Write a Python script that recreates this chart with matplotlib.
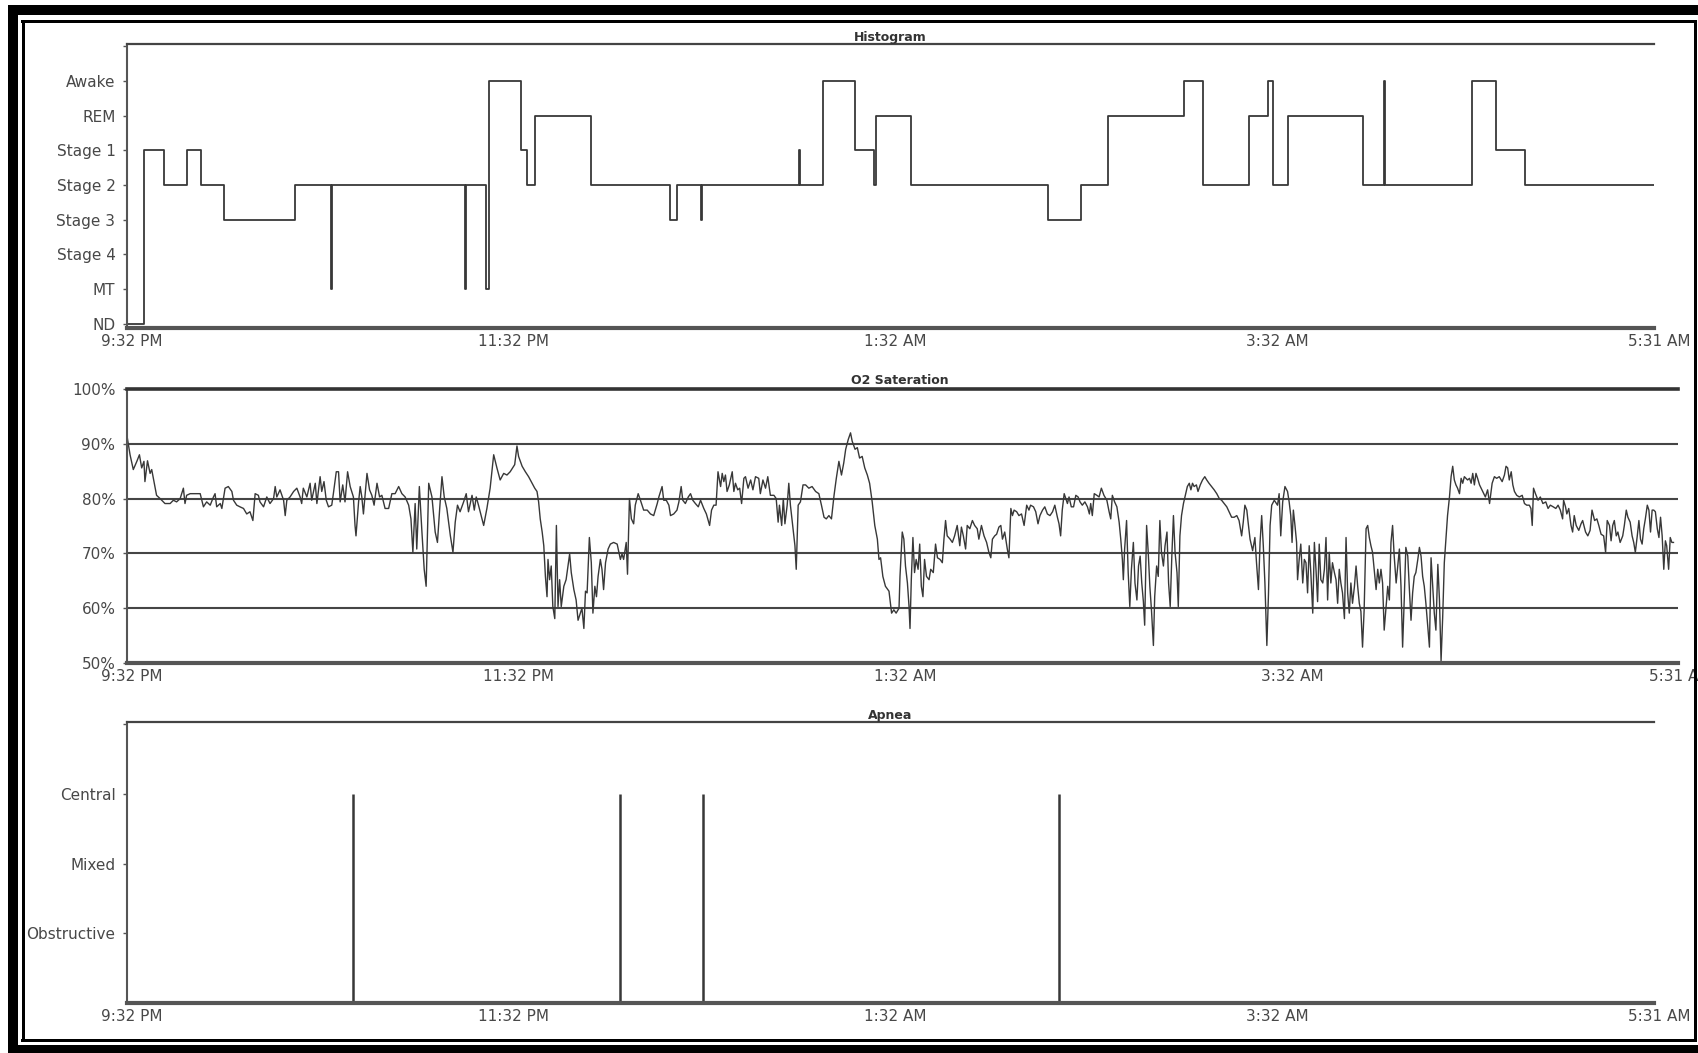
import numpy as np
import matplotlib.pyplot as plt
from matplotlib.patches import Rectangle
from matplotlib.transforms import ScaledTranslation

plt.rcParams['font.family'] = ['DejaVu Sans']

# time axis: minutes after 9:32 PM
record_end = 479
time_labels = ["9:32 PM", "11:32 PM", "1:32 AM", "3:32 AM", "5:31 AM"]

# sleep stages (code = position on the y axis)
stage_names = ["ND", "MT", "Stage 4", "Stage 3", "Stage 2", "Stage 1", "REM", "Awake"]
stage_start = [0, 5.4, 11.7, 19.1, 23.3, 30.5, 52.7, 64.0, 64.5, 106.0,
               106.5, 112.8, 113.7, 123.8, 125.5, 128.0, 145.8, 170.3, 172.5, 180.1,
               180.5, 210.8, 211.2, 218.3, 228.3, 234.4, 234.9, 245.9, 288.9, 299.4,
               307.7, 331.5, 337.5, 351.9, 357.9, 359.6, 364.2, 387.7, 394.2, 394.7,
               422.0, 429.6, 438.4]
stage_code = [0, 5, 4, 5, 4, 3, 4, 1, 4, 1,
              4, 1, 7, 5, 4, 6, 4, 3, 4, 3,
              4, 5, 4, 7, 5, 4, 6, 4, 3, 4,
              6, 7, 4, 6, 7, 4, 6, 4, 7, 4,
              7, 5, 4]

# O2 saturation samples, in four stretches of the night
o2_min_1 = [0.0, 1.1, 2.1, 3.2, 4.0, 4.7, 5.4, 5.7, 6.5, 7.3,
            7.8, 8.3, 9.3, 10.4, 11.9, 13.5, 14.5, 15.5, 16.6, 17.6,
            18.1, 18.6, 19.7, 20.7, 22.8, 23.8, 24.8, 25.9, 26.9, 27.4,
            27.9, 29.0, 29.5, 30.5, 31.5, 32.6, 33.1, 34.1, 35.1, 36.2,
            37.2, 38.2, 39.1, 39.8, 40.8, 41.3, 42.4, 43.4, 44.4, 45.5,
            46.0, 46.5, 47.5, 48.6, 49.1, 49.6, 50.6, 51.7, 52.7, 53.7,
            54.2, 54.7, 55.8, 56.8, 57.3, 58.4, 58.9, 59.9, 60.4, 61.1,
            61.8, 62.5, 63.5, 64.0, 64.9, 65.6, 66.1, 66.9, 67.6, 68.4,
            69.2, 70.2, 70.7, 71.0, 71.8, 72.3, 72.8, 73.3, 74.4, 75.2,
            75.9, 76.6, 77.5, 78.3, 79.0, 80.0, 81.1, 82.1, 83.1, 84.2,
            85.2, 86.2, 87.3, 88.0, 88.6, 89.3, 89.8, 90.6, 91.4, 92.1,
            92.7, 93.1, 93.5, 94.5, 95.5, 96.2, 96.9, 97.6, 98.3, 99.1,
            100.2, 101.0, 101.7, 102.4, 103.2, 104.3, 105.1, 105.8, 106.9, 107.6,
            108.2, 108.9, 110.0, 110.5, 111.5, 112.5, 113.6, 114.6, 115.6, 116.7,
            117.7, 118.7, 119.8]
o2_val_1 = [92.0, 88.0, 85.3, 86.8, 88.0, 85.6, 86.8, 83.1, 86.9, 84.6,
            85.3, 83.7, 80.6, 80.0, 79.1, 79.1, 79.7, 79.4, 80.0, 81.9,
            79.1, 80.6, 80.9, 80.9, 80.9, 78.5, 79.4, 78.8, 80.3, 80.9,
            78.5, 79.1, 78.2, 81.9, 82.2, 81.3, 79.7, 78.8, 78.5, 78.2,
            77.2, 77.6, 76.0, 80.9, 80.6, 79.4, 78.5, 80.3, 79.1, 80.0,
            82.2, 80.3, 81.6, 79.7, 76.9, 79.7, 80.3, 81.3, 81.9, 80.3,
            79.1, 81.9, 80.3, 82.8, 79.7, 82.8, 79.1, 84.0, 81.3, 83.1,
            79.7, 78.5, 78.8, 80.9, 84.9, 84.9, 79.4, 82.5, 79.4, 84.9,
            82.2, 80.3, 75.1, 73.2, 79.4, 82.2, 80.3, 77.2, 84.6, 81.6,
            80.6, 78.8, 82.8, 80.3, 80.6, 78.2, 78.2, 80.9, 80.9, 82.2,
            80.9, 80.3, 78.8, 76.3, 70.2, 79.1, 70.8, 82.2, 73.9, 67.1,
            64.0, 73.2, 82.8, 80.3, 73.9, 72.0, 78.2, 84.0, 80.3, 78.2,
            73.2, 70.2, 75.7, 78.8, 77.6, 79.4, 80.9, 77.6, 80.6, 77.9,
            80.3, 78.8, 76.3, 75.1, 78.2, 81.9, 88.0, 85.6, 83.4, 84.6,
            84.3, 84.9, 85.9]

o2_min_2 = [120.1, 120.8, 121.3, 122.4, 123.4, 124.4, 125.5, 126.3, 127.0, 127.5,
            128.0, 128.6, 129.1, 129.6, 130.1, 130.4, 130.9, 131.4, 131.9, 132.5,
            133.0, 133.5, 134.0, 134.5, 135.3, 136.0, 136.6, 137.1, 137.6, 138.4,
            139.1, 139.7, 140.4, 140.9, 141.5, 142.0, 142.5, 143.2, 143.8, 144.3,
            144.9, 145.4, 145.9, 146.6, 147.1, 147.6, 148.2, 149.0, 149.7, 150.7,
            151.8, 152.8, 153.3, 153.8, 154.6, 155.0, 155.6, 156.2, 156.9, 157.4,
            158.3, 159.0, 160.0, 161.1, 162.1, 163.1, 164.2, 164.7, 165.7, 166.2,
            167.0, 167.8, 168.3, 169.3, 170.3, 170.9, 171.6, 172.1, 172.9, 173.8,
            174.5, 175.2, 176.0, 176.9, 177.6, 178.6, 179.4, 180.4, 181.0, 181.7,
            182.4, 183.0, 183.8, 184.3, 184.8, 185.3, 185.8, 186.5, 187.4, 187.9,
            188.4, 189.1, 189.7, 190.3, 191.0, 191.5, 192.3, 193.1, 193.8, 194.6,
            195.6, 196.1, 196.9, 197.7, 198.4, 199.2, 200.3, 201.0, 201.6, 202.0,
            202.7, 203.2, 203.7, 204.4, 204.9, 205.4, 206.2, 206.8, 207.2, 207.8,
            208.5, 209.3, 210.1, 211.1, 212.1, 213.2, 214.2, 215.0, 215.8, 216.5,
            217.3, 218.1, 218.9, 219.6, 220.4, 221.2, 221.9, 222.5, 223.3, 224.0,
            224.5, 225.4, 226.1, 226.8, 227.6, 228.4, 229.2, 229.9, 230.7, 231.5,
            232.3, 232.8, 233.3, 234.0, 234.8, 235.9, 236.7, 237.4, 238.1, 239.0]
o2_val_2 = [86.2, 89.6, 87.7, 85.9, 84.9, 84.0, 82.8, 81.9, 81.3, 79.4,
            76.3, 73.9, 71.4, 65.8, 62.1, 68.9, 65.2, 67.7, 60.3, 58.1,
            75.1, 60.3, 65.2, 60.3, 64.0, 65.2, 67.7, 69.9, 66.5, 63.4,
            61.5, 57.8, 59.1, 60.0, 56.3, 63.1, 62.8, 72.9, 68.3, 59.1,
            64.0, 62.1, 65.8, 68.9, 67.1, 63.4, 68.3, 70.8, 71.7, 72.0,
            71.7, 68.9, 69.9, 68.9, 72.0, 66.2, 80.0, 76.3, 75.4, 78.8,
            80.9, 79.7, 77.9, 77.9, 77.2, 76.9, 79.1, 80.3, 82.2, 79.7,
            79.7, 78.8, 76.9, 77.2, 77.9, 79.4, 82.2, 79.7, 79.1, 80.3,
            80.9, 79.7, 79.1, 78.5, 79.7, 78.2, 77.2, 75.1, 77.9, 78.8,
            78.8, 84.9, 82.2, 84.6, 83.1, 84.3, 81.3, 82.5, 84.9, 81.3,
            82.8, 81.6, 81.9, 79.1, 83.7, 84.0, 81.9, 83.4, 81.6, 84.0,
            83.7, 80.9, 83.4, 81.9, 84.0, 80.6, 80.6, 80.0, 75.7, 78.8,
            75.1, 80.0, 75.4, 78.8, 82.8, 78.8, 74.5, 71.4, 67.1, 78.8,
            79.4, 82.5, 82.5, 81.9, 82.2, 81.3, 80.9, 78.8, 76.6, 76.3,
            76.9, 76.3, 80.6, 83.7, 86.8, 84.3, 86.5, 89.0, 90.8, 92.0,
            90.5, 89.0, 89.3, 87.4, 87.7, 85.6, 84.3, 82.8, 79.4, 75.1,
            72.6, 68.9, 69.2, 65.8, 64.0, 63.1, 59.1, 59.7, 59.1, 60.0]

o2_min_3 = [239.3, 240.0, 240.5, 241.0, 241.6, 242.1, 242.4, 242.8, 243.3, 243.8,
            244.3, 244.9, 245.4, 245.9, 246.4, 246.9, 247.5, 248.3, 248.8, 249.6,
            250.3, 250.9, 251.7, 252.4, 252.9, 253.4, 253.9, 254.8, 255.5, 256.2,
            257.0, 257.8, 258.3, 258.9, 259.6, 260.1, 260.9, 261.7, 262.4, 263.2,
            263.7, 264.5, 265.3, 266.1, 266.8, 267.4, 267.9, 268.6, 269.2, 269.9,
            270.5, 271.0, 271.7, 272.5, 273.0, 273.6, 274.1, 274.6, 275.4, 276.1,
            276.9, 277.7, 278.5, 279.2, 279.7, 280.6, 281.3, 282.0, 282.6, 283.4,
            284.1, 284.9, 285.7, 286.5, 287.2, 288.0, 288.5, 289.0, 289.5, 290.1,
            290.6, 291.1, 291.6, 292.3, 293.0, 293.7, 294.4, 295.0, 295.7, 296.5,
            297.3, 297.9, 298.3, 298.8, 299.4, 300.2, 300.9, 301.6, 302.4, 303.3,
            304.0, 304.5, 305.0, 305.7, 306.4, 307.1, 307.6, 308.1, 308.4, 308.8,
            309.4, 309.9, 310.4, 310.9, 311.5, 312.0, 312.6, 313.1, 313.6, 314.1,
            314.6, 315.0, 315.6, 316.1, 316.6, 317.1, 317.7, 318.1, 318.7, 319.2,
            319.7, 320.2, 320.8, 321.3, 321.9, 322.4, 322.9, 323.4, 323.9, 324.4,
            325.0, 325.4, 325.9, 326.4, 327.0, 327.7, 328.2, 328.8, 329.3, 329.8,
            330.3, 331.0, 331.5, 332.2, 332.9, 333.6, 334.2, 334.9, 335.7, 336.5,
            337.3, 338.1, 338.8, 339.6, 340.4, 341.1, 341.9, 342.7, 343.5, 344.2,
            345.0, 345.5, 346.0, 346.6, 347.0, 347.6, 348.4, 349.1, 349.6, 350.2,
            350.7, 351.2, 351.7, 352.2, 352.8, 353.3, 353.8, 354.3, 355.1, 356.1,
            356.6, 357.1, 357.7, 358.4]
o2_val_3 = [65.8, 73.9, 72.6, 67.7, 64.6, 60.3, 56.3, 65.2, 72.9, 66.5,
            68.9, 67.1, 71.7, 64.0, 62.1, 68.9, 65.8, 65.2, 67.1, 66.5,
            71.7, 69.2, 68.9, 68.3, 72.6, 76.0, 73.2, 72.6, 72.0, 73.2,
            75.1, 71.4, 74.8, 73.2, 70.8, 75.1, 74.5, 76.0, 75.1, 74.5,
            72.6, 75.1, 73.2, 72.0, 70.2, 69.2, 72.6, 73.2, 73.5, 74.8,
            75.1, 72.6, 73.9, 70.8, 69.2, 78.2, 76.9, 77.9, 77.6, 76.9,
            77.2, 75.1, 78.8, 77.9, 78.8, 78.5, 77.6, 75.4, 76.9, 77.9,
            78.5, 77.2, 76.9, 77.6, 78.8, 76.6, 75.4, 73.2, 77.9, 80.9,
            80.0, 79.1, 80.3, 78.5, 78.5, 80.6, 80.3, 79.4, 78.8, 79.4,
            78.5, 77.2, 79.1, 76.9, 80.9, 80.6, 80.3, 81.9, 80.6, 79.7,
            77.6, 76.3, 80.6, 79.4, 78.5, 75.7, 72.6, 68.9, 65.2, 70.8,
            76.0, 66.5, 60.3, 67.1, 72.0, 64.6, 61.5, 67.7, 69.5, 64.6,
            61.2, 56.9, 75.1, 70.2, 64.0, 59.7, 53.2, 62.1, 67.7, 65.8,
            76.0, 70.2, 67.7, 71.4, 73.9, 64.6, 60.3, 69.5, 76.9, 70.2,
            66.5, 60.3, 73.2, 76.9, 79.1, 80.9, 82.2, 82.8, 81.6, 82.8,
            82.2, 82.5, 81.3, 82.5, 83.4, 84.0, 83.4, 82.8, 82.2, 81.6,
            80.9, 80.0, 79.7, 79.1, 78.5, 77.6, 76.6, 76.6, 76.9, 76.0,
            73.2, 75.7, 78.8, 77.9, 75.7, 72.6, 70.5, 72.9, 68.3, 63.4,
            72.0, 76.9, 71.4, 64.6, 53.2, 62.5, 75.1, 78.8, 79.7, 78.8,
            80.9, 73.2, 79.4, 82.2]

o2_min_4 = [359.2, 359.7, 360.2, 360.6, 361.0, 361.5, 362.0, 362.3, 362.8, 363.3,
            363.9, 364.4, 364.9, 365.4, 365.9, 366.4, 367.0, 367.5, 368.0, 368.5,
            369.0, 369.5, 370.1, 370.6, 371.1, 371.6, 372.1, 372.6, 373.1, 373.7,
            374.2, 374.7, 375.2, 375.7, 376.2, 376.8, 377.3, 377.8, 378.3, 378.8,
            379.3, 379.9, 380.4, 380.9, 381.4, 381.9, 382.4, 382.9, 383.5, 384.0,
            384.5, 385.0, 385.5, 386.0, 386.6, 387.1, 387.6, 388.1, 388.6, 389.1,
            389.7, 390.2, 390.7, 391.2, 391.7, 392.2, 392.8, 393.3, 393.8, 394.3,
            394.8, 395.3, 395.8, 396.4, 396.9, 397.4, 397.9, 398.4, 398.9, 399.5,
            400.0, 400.5, 401.0, 401.5, 402.0, 402.6, 403.1, 403.6, 404.1, 404.6,
            405.1, 405.7, 406.2, 406.7, 407.2, 407.7, 408.2, 408.7, 409.3, 409.8,
            410.3, 410.8, 411.3, 411.8, 412.4, 412.9, 413.4, 413.9, 414.4, 414.9,
            415.5, 416.0, 416.5, 417.0, 417.5, 418.0, 418.6, 419.6, 420.4, 421.1,
            421.7, 422.5, 423.2, 423.9, 424.7, 425.6, 426.3, 426.8, 427.3, 427.8,
            428.4, 428.9, 429.4, 430.1, 430.9, 431.8, 432.5, 433.2, 434.0, 434.5,
            434.9, 435.3, 435.9, 436.7, 437.4, 438.2, 439.1, 439.8, 440.5, 441.4,
            442.2, 442.9, 443.6, 444.3, 444.6, 445.2, 445.6, 446.2, 446.9, 447.4,
            447.9, 448.5, 449.3, 450.0, 450.5, 451.4, 452.1, 452.8, 453.4, 454.2,
            454.9, 455.5, 456.2, 457.0, 457.6, 458.1, 458.8, 459.3, 459.8, 460.3,
            460.9, 461.4, 462.1, 462.9, 463.4, 464.0, 464.5, 465.2, 465.8, 466.3,
            466.8, 467.4, 467.9, 468.4, 468.9, 469.4, 469.9, 470.5, 471.0, 471.5,
            472.0, 472.5, 473.0, 473.6, 474.1, 474.6, 475.1, 475.6, 476.1, 476.5,
            477.1, 477.6, 478.1, 478.6]
o2_val_4 = [81.3, 79.4, 76.9, 72.0, 77.9, 75.1, 72.0, 65.2, 68.9, 71.7,
            64.6, 68.9, 68.3, 62.8, 71.4, 66.5, 59.1, 72.0, 67.1, 61.2,
            71.7, 65.2, 64.6, 67.1, 72.9, 61.5, 70.2, 64.6, 68.3, 66.5,
            65.2, 60.9, 67.1, 64.6, 62.8, 58.1, 72.9, 62.8, 59.1, 64.6,
            60.9, 64.0, 67.7, 64.0, 60.9, 59.4, 52.9, 59.7, 74.5, 75.1,
            72.9, 71.4, 70.2, 67.1, 63.4, 67.1, 64.6, 67.1, 64.6, 56.0,
            60.3, 64.0, 61.5, 72.0, 75.1, 69.5, 64.6, 67.7, 70.8, 64.0,
            52.9, 61.5, 71.1, 69.5, 63.4, 57.8, 62.8, 65.8, 66.5, 68.9,
            71.1, 69.5, 65.8, 64.0, 60.9, 56.6, 52.9, 69.2, 64.0, 59.1,
            56.0, 68.0, 61.5, 50.4, 58.4, 68.3, 72.6, 76.9, 80.3, 84.0,
            85.9, 83.4, 82.5, 81.9, 80.9, 83.7, 82.8, 84.0, 83.7, 83.4,
            83.7, 82.8, 84.6, 82.5, 84.6, 83.7, 82.5, 81.3, 80.3, 81.6,
            79.1, 82.8, 84.0, 83.7, 84.0, 83.1, 84.3, 85.9, 85.6, 83.4,
            84.9, 82.5, 81.3, 80.6, 80.3, 80.6, 79.1, 78.8, 78.8, 78.2,
            75.1, 81.9, 80.9, 79.7, 80.3, 79.1, 79.4, 78.2, 78.8, 78.5,
            78.2, 78.8, 77.9, 76.3, 79.7, 78.5, 77.2, 78.2, 75.1, 73.9,
            76.9, 75.1, 74.2, 75.4, 76.0, 73.9, 73.2, 74.2, 77.9, 76.0,
            76.3, 75.1, 73.5, 73.2, 70.2, 76.0, 75.1, 72.3, 75.1, 76.0,
            73.2, 73.9, 72.0, 73.2, 75.1, 77.9, 76.6, 75.7, 73.2, 72.0,
            70.2, 73.2, 76.0, 72.6, 71.7, 74.5, 76.3, 78.8, 77.9, 73.9,
            77.9, 77.9, 77.6, 74.5, 72.9, 76.6, 73.2, 67.1, 72.3, 71.4,
            67.1, 72.9, 72.0, 72.0]

o2_ticks = [50, 60, 70, 80, 90, 100]

# apnea events: minute and type (1 obstructive, 2 mixed, 3 central)
apnea_names = ["Obstructive", "Mixed", "Central"]
apnea_minutes = [71.0, 154.6, 180.8, 292.3]
apnea_type = [3, 3, 3, 3]

W, H = 1698, 1053
LINE = '#383838'
TEXT = '#484848'
SPINE = '#555555'


def px_box(x0, y0, x1, y1):
    return [x0 / W, 1 - y1 / H, (x1 - x0) / W, (y1 - y0) / H]


def style_axis(ax, xmax):
    ax.set_xlim(0, xmax)
    ax.spines['right'].set_visible(False)
    ax.spines['left'].set_color(SPINE)
    ax.spines['left'].set_linewidth(1.5)
    ax.spines['top'].set_color('#444444')
    ax.spines['top'].set_linewidth(1.6)
    ax.spines['bottom'].set_color(SPINE)
    ax.spines['bottom'].set_linewidth(3)
    ax.set_xticks(np.linspace(0, record_end, len(time_labels)))
    ax.set_xticklabels(time_labels)
    ax.tick_params(axis='x', length=0, pad=4.5, labelsize=11, labelcolor=TEXT)
    ax.tick_params(axis='y', length=3, width=1, color=SPINE, pad=5,
                   labelsize=11, labelcolor=TEXT)
    # time labels sit a little to the right of their tick
    shift = ScaledTranslation(5 / 100, 0, fig.dpi_scale_trans)
    for lab in ax.get_xticklabels():
        lab.set_transform(lab.get_transform() + shift)


fig = plt.figure(figsize=(W / 100, H / 100), dpi=100)
fig.patch.set_facecolor('white')

# hypnogram
ax1 = fig.add_axes(px_box(126.5, 44, 1654, 328))
style_axis(ax1, record_end)
ax1.step(stage_start + [record_end], stage_code + [stage_code[-1]],
         where='post', color=LINE, lw=1.3)
ax1.set_ylim(-0.12, 8.07)
ax1.set_yticks(range(9))
ax1.set_yticklabels(stage_names + [''])

# oxygen saturation
ax2 = fig.add_axes(px_box(126.5, 389, 1678, 663))
style_axis(ax2, 480.0)
ax2.spines['top'].set_linewidth(2.6)
ax2.spines['top'].set_color('#333333')
for level in o2_ticks[1:-1]:
    ax2.axhline(level, color='#454545', lw=1.5, zorder=1)
o2_minutes = o2_min_1 + o2_min_2 + o2_min_3 + o2_min_4
o2_values = o2_val_1 + o2_val_2 + o2_val_3 + o2_val_4
ax2.plot(o2_minutes, o2_values, color=LINE, lw=1.0, zorder=2)
ax2.set_ylim(50, 100)
ax2.set_yticks(o2_ticks)
ax2.set_yticklabels([f"{t}%" for t in o2_ticks])

# apnea events
ax3 = fig.add_axes(px_box(126.5, 722, 1654, 1003))
style_axis(ax3, record_end)
ax3.vlines(apnea_minutes, 0, apnea_type, color=LINE, lw=1.8)
ax3.set_ylim(0, 4.03)
ax3.set_yticks([1, 2, 3, 4])
ax3.set_yticklabels(apnea_names + [''])

# panel captions
for label, x, y in [("Histogram", 890, 37.5), ("O2 Sateration", 900, 381), ("Apnea", 890, 715)]:
    fig.text(x / W, 1 - y / H, label, ha='center', va='center', fontsize=9,
             fontweight='bold', color='#333333')

# double black frame round the report
frame = [(8, 5, 1698, 15), (8, 5, 18, 1053), (8, 1045, 1698, 1053),
         (21, 19.5, 1697, 22.5), (21.5, 19.5, 25, 1042),
         (1693.5, 19.5, 1697, 1042), (21, 1039, 1697, 1042)]
for x0, y0, x1, y1 in frame:
    fig.add_artist(Rectangle((x0 / W, 1 - y1 / H), (x1 - x0) / W, (y1 - y0) / H,
                             transform=fig.transFigure, color='black', lw=0, zorder=20))

fig.savefig('out.png', dpi=100, facecolor='white')
